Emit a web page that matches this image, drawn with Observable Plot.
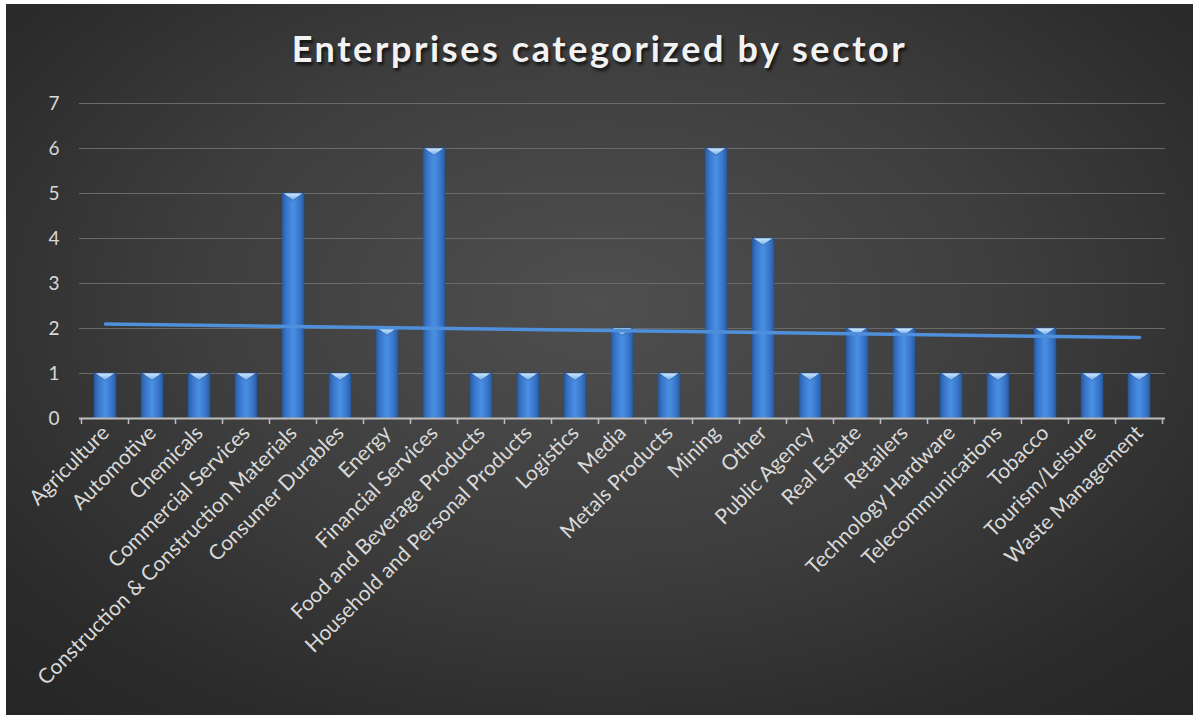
<!DOCTYPE html>
<html>
<head>
<meta charset="utf-8">
<script src="https://cdn.jsdelivr.net/npm/d3@7"></script>
<script src="https://cdn.jsdelivr.net/npm/@observablehq/plot@0.6"></script>
<style>
  html, body { margin: 0; padding: 0; background: #ffffff; }
  #wrap { position: relative; width: 1193px; height: 715px; background: #ffffff; overflow: hidden; }
  #chart {
    position: absolute; left: 6px; top: 4px; width: 1187px; height: 711px;
    background: radial-gradient(ellipse 75% 80% at 50% 42%, #4f4f4f 0%, #3e3e3e 45%, #2b2b2b 80%, #252525 100%);
  }
  #title {
    height: 80px; padding-top: 24px; box-sizing: border-box; line-height: 40px; text-align: center;
    font-family: Lato, "Open Sans", sans-serif; font-weight: 700; font-size: 36px;
    letter-spacing: 2.6px; color: #f2f2f2;
    text-shadow: 2px 3px 3px rgba(0,0,0,0.65);
  }
  #plot svg { display: block; }
</style>
</head>
<body>
<div id="wrap">
  <div id="chart">
    <div id="title">Enterprises categorized by sector</div>
    <div id="plot"></div>
  </div>
</div>
<script>
const sectors = [
  "Agriculture", "Automotive", "Chemicals", "Commercial Services",
  "Construction & Construction Materials", "Consumer Durables", "Energy",
  "Financial Services", "Food and Beverage Products", "Household and Personal Products",
  "Logistics", "Media", "Metals Products", "Mining", "Other", "Public Agency",
  "Real Estate", "Retailers", "Technology Hardware", "Telecommunications",
  "Tobacco", "Tourism/Leisure", "Waste Management"
];
const counts = [1, 1, 1, 1, 5, 1, 2, 6, 1, 1, 1, 2, 1, 6, 4, 1, 2, 2, 1, 1, 2, 1, 1];
const yTicks = [0, 1, 2, 3, 4, 5, 6, 7];
// trendline end values (first and last category)
const trendStart = 2.1;
const trendEnd = 1.8;

const data = sectors.map((s, i) => ({sector: s, count: counts[i]}));
const trend = [
  {sector: sectors[0], value: trendStart},
  {sector: sectors[sectors.length - 1], value: trendEnd}
];

const plot = Plot.plot({
  width: 1187,
  height: 631,
  marginTop: 19,
  marginBottom: 297,
  marginLeft: 73,
  marginRight: 28,
  style: {background: "transparent", color: "#d9d9d9", fontFamily: "Lato, 'Open Sans', sans-serif", fontSize: "19px"},
  x: {domain: sectors, paddingInner: 0.53, paddingOuter: 0.265, label: null, tickRotate: -45, tickSize: 0, tickPadding: 11},
  y: {domain: [0, 7], ticks: yTicks, tickFormat: "d", label: null, tickSize: 0, tickPadding: 20},
  marks: [
    Plot.ruleY(yTicks.slice(1), {stroke: "#6a6a6a", strokeWidth: 1}),
    Plot.barY(data, {x: "sector", y: "count", fill: "#3d7fd6", stroke: "#24508f", strokeWidth: 0.6}),
    Plot.ruleY([0], {stroke: "#bdbdbd", strokeWidth: 2}),
    Plot.line(trend, {x: "sector", y: "value", stroke: "#4f8fdc", strokeWidth: 3.5})
  ]
});
document.getElementById("plot").appendChild(plot);

// gradients & decoration built from the rendered library output
const svg = d3.select(plot);
svg.selectAll('g[aria-label^="x-axis"]').attr("font-size", "21px");
const defs = svg.insert("defs", ":first-child");
const g1 = defs.append("linearGradient").attr("id", "barGrad").attr("x1", "0%").attr("x2", "100%").attr("y1", "0%").attr("y2", "0%");
[["0%", "#2a5ba3"], ["22%", "#3a78cc"], ["50%", "#4a90e4"], ["78%", "#3a78cc"], ["100%", "#2a5ba3"]]
  .forEach(([o, c]) => g1.append("stop").attr("offset", o).attr("stop-color", c));
const g2 = defs.append("linearGradient").attr("id", "capGrad").attr("x1", "0%").attr("x2", "0%").attr("y1", "0%").attr("y2", "100%");
[["0%", "#d6ecff"], ["100%", "#6aa8ee"]]
  .forEach(([o, c]) => g2.append("stop").attr("offset", o).attr("stop-color", c));

const bars = svg.selectAll('g[aria-label="bar"] rect');
bars.attr("fill", "url(#barGrad)");
const capLayer = svg.select('g[aria-label="bar"]').append("g");
bars.each(function() {
  const r = d3.select(this);
  const x = +r.attr("x"), y = +r.attr("y"), w = +r.attr("width");
  capLayer.append("path")
    .attr("d", `M${x + 1},${y} L${x + w - 1},${y} L${x + w / 2},${y + 7.5} Z`)
    .attr("fill", "url(#capGrad)");
});

// category boundary ticks on the x axis, from the library's x scale
const xs = plot.scale("x");
const ys = plot.scale("y");
const step = xs.step, bw = xs.bandwidth;
const y0 = ys.apply(0);
const tickG = svg.append("g");
sectors.forEach((s, i) => {
  const bx = xs.apply(s) - (step - bw) / 2;
  tickG.append("line").attr("x1", bx).attr("x2", bx).attr("y1", y0).attr("y2", y0 + 6).attr("stroke", "#bdbdbd").attr("stroke-width", 1.5);
  if (i === sectors.length - 1) {
    const ex = bx + step;
    tickG.append("line").attr("x1", ex).attr("x2", ex).attr("y1", y0).attr("y2", y0 + 6).attr("stroke", "#bdbdbd").attr("stroke-width", 1.5);
  }
});
</script>
</body>
</html>
